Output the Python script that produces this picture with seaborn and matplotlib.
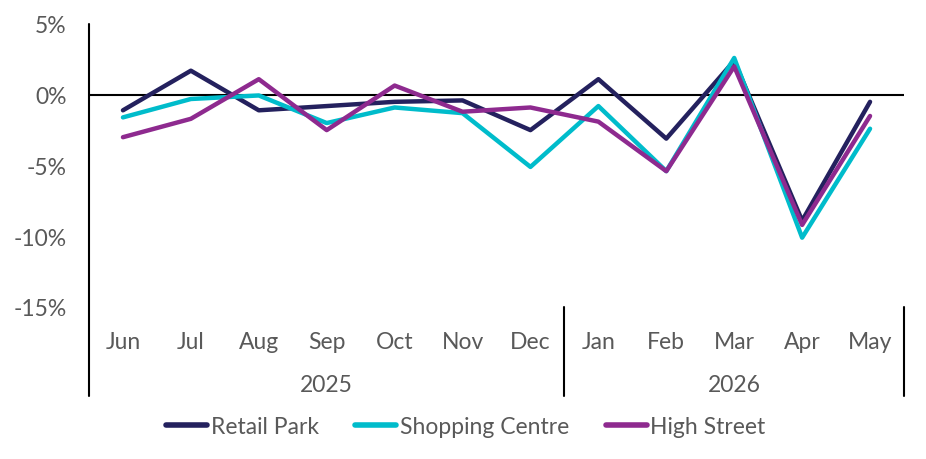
import pandas as pd
import seaborn as sns
import matplotlib.pyplot as plt
import matplotlib.transforms as mtransforms

months = ["Jun", "Jul", "Aug", "Sep", "Oct", "Nov", "Dec",
          "Jan", "Feb", "Mar", "Apr", "May"]
years = ["2025", "2026"]
year_spans = [(0, 6), (7, 11)]

retail_park = [-1.1, 1.7, -1.1, -0.8, -0.5, -0.4, -2.5, 1.1, -3.1, 2.4, -8.9, -0.5]
shopping_centre = [-1.6, -0.3, -0.05, -2.0, -0.9, -1.3, -5.1, -0.8, -5.4, 2.6, -10.1, -2.4]
high_street = [-3.0, -1.7, 1.1, -2.5, 0.65, -1.2, -0.9, -1.9, -5.4, 2.0, -9.2, -1.5]

series_names = ["Retail Park", "Shopping Centre", "High Street"]
colors = {"Retail Park": "#24215e", "Shopping Centre": "#00bccb", "High Street": "#8e2a8f"}
grey = "#595959"

sns.set_style("white")
plt.rcParams["font.family"] = ["Lato", "DejaVu Sans"]

rows = []
for name, vals in zip(series_names, [retail_park, shopping_centre, high_street]):
	for i, v in enumerate(vals):
		rows.append({"idx": i, "month": months[i], "value": v, "series": name})
df = pd.DataFrame(rows)

fig = plt.figure(figsize=(9.26, 4.6), dpi=100)
ax = fig.add_axes([89 / 926, 1 - 308 / 460, (904 - 89) / 926, (308 - 25) / 460])

sns.lineplot(data=df, x="idx", y="value", hue="series", hue_order=series_names,
	palette=colors, linewidth=3.2, ax=ax, legend=False)

ax.set_xlim(-0.5, 11.5)
ax.set_ylim(-15, 5)
ax.set_yticks([5, 0, -5, -10, -15])
ax.set_yticklabels([f"{t}%" for t in [5, 0, -5, -10, -15]])
ax.set_xticks(range(len(months)))
ax.set_xticklabels(months)
ax.tick_params(axis="both", length=0, labelsize=16.5, labelcolor=grey)
ax.tick_params(axis="x", pad=17)
ax.tick_params(axis="y", pad=16)
ax.set_xlabel("")
ax.set_ylabel("")
for s in ax.spines.values():
	s.set_visible(False)

# zero line
ax.axhline(0, color="black", lw=1.5, zorder=1)

# left axis line and category separators running below the plot
trans = mtransforms.blended_transform_factory(ax.transData, ax.transAxes)
ax.plot([-0.5, -0.5], [1, -0.315], color="black", lw=1.5, transform=trans, clip_on=False)
for xs in [6.5, 11.5]:
	ax.plot([xs, xs], [0, -0.315], color="black", lw=1.5, transform=trans, clip_on=False)

for yr, (a, b) in zip(years, year_spans):
	ax.text((a + b) / 2, -0.275, yr, transform=trans, ha="center", va="center",
		fontsize=16.5, color=grey)

handles = [plt.Line2D([], [], color=colors[n], lw=4, solid_capstyle="round") for n in series_names]
leg = fig.legend(handles, series_names, loc="center", bbox_to_anchor=(0.503, 0.07),
	ncol=3, frameon=False, fontsize=16.5, handlelength=1.8, handletextpad=0.15,
	columnspacing=1.6)
for t in leg.get_texts():
	t.set_color(grey)

plt.savefig("out.png", dpi=100)
plt.close()
